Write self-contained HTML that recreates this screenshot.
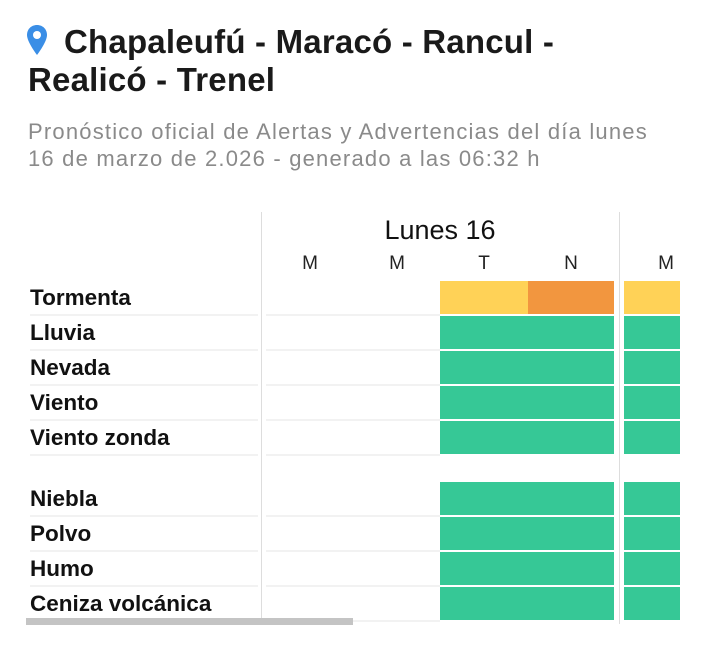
<!DOCTYPE html>
<html><head><style>
body{margin:0;width:720px;height:666px;background:#fff;font-family:"Liberation Sans",sans-serif;position:relative;overflow:hidden}
.a{position:absolute;white-space:nowrap}
.t{font-weight:bold;font-size:33px;color:#1a1a1a;line-height:38px;letter-spacing:0.2px}
.s{color:#8a8a8a;font-size:22px;line-height:27px;letter-spacing:1.2px}
.lab{left:30px;font-weight:bold;font-size:22.5px;color:#111}
.sep{height:2px;background:#f2f2f2}
.y{background:#ffd257}.o{background:#f2963f}.g{background:#36c896}
.h{font-size:19px;color:#222;width:40px;text-align:center}
</style></head><body>
<svg class="a" style="left:26px;top:24px" width="22" height="32" viewBox="0 0 22 32"><path d="M11 1C5 1 1 5.5 1 11c0 7 10 20 10 20s10-13 10-20C21 5.5 17 1 11 1z" fill="#3a8ee6"/><circle cx="11" cy="11" r="4" fill="#fff"/></svg>
<div class="a t" style="left:64px;top:23px">Chapaleufú - Maracó - Rancul -</div>
<div class="a t" style="left:28px;top:61px">Realicó - Trenel</div>
<div class="a s" style="left:28px;top:118px">Pronóstico oficial de Alertas y Advertencias del día lunes<br>16 de marzo de 2.026 - generado a las 06:32 h</div>
<div class="a" style="left:261px;top:212px;width:1px;height:412px;background:#ddd"></div>
<div class="a" style="left:619px;top:212px;width:1px;height:412px;background:#ddd"></div>
<div class="a" style="left:262px;top:215px;width:356px;text-align:center;font-size:27px;color:#111">Lunes 16</div>
<div class="a h" style="left:290px;top:253px">M</div>
<div class="a h" style="left:377px;top:253px">M</div>
<div class="a h" style="left:464px;top:253px">T</div>
<div class="a h" style="left:551px;top:253px">N</div>
<div class="a h" style="left:646px;top:253px">M</div>
<div id="rows"></div>
<div class="a" style="left:26px;top:618px;width:327px;height:7px;background:#c4c4c4"></div>
<script>
var rows=[["Tormenta",281],["Lluvia",316],["Nevada",351],["Viento",386],["Viento zonda",421],["Niebla",482],["Polvo",517],["Humo",552],["Ceniza volcánica",587]];
var h="";
rows.forEach(function(r,i){var y=r[1];
h+='<div class="a lab" style="top:'+(y+4)+'px">'+r[0]+'</div>';
h+='<div class="a sep" style="left:30px;top:'+(y+33)+'px;width:228px"></div>';
h+='<div class="a sep" style="left:266px;top:'+(y+33)+'px;width:174px"></div>';
if(i==0){h+='<div class="a y" style="left:440px;top:'+y+'px;width:88px;height:33px"></div><div class="a o" style="left:528px;top:'+y+'px;width:86px;height:33px"></div><div class="a y" style="left:624px;top:'+y+'px;width:56px;height:33px"></div>';}
else{h+='<div class="a g" style="left:440px;top:'+y+'px;width:174px;height:33px"></div><div class="a g" style="left:624px;top:'+y+'px;width:56px;height:33px"></div>';}
});
document.getElementById("rows").innerHTML=h;
</script>
</body></html>
